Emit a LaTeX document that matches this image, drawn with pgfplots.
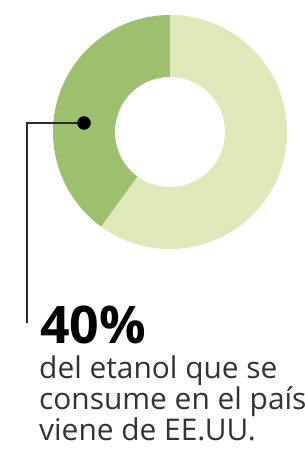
\documentclass[border=0pt]{standalone}
\usepackage{pgfplots}
\usepackage{pgfplotstable}
\pgfplotsset{compat=1.18}
\usepackage{fontspec}
\setmainfont{Open Sans}
\definecolor{darkgreen}{HTML}{9DC06F}
\definecolor{lightgreen}{HTML}{DFE8B8}
\definecolor{linegray}{HTML}{2B2B2B}
\definecolor{textgray}{HTML}{333333}
\pgfplotstableread{
label value
EEUU 40
Otros 60
}\shares
\begin{document}
\begin{tikzpicture}
\pgfplotstablegetelem{0}{value}\of\shares \pgfmathsetmacro{\va}{\pgfplotsretval}
\pgfplotstablegetelem{1}{value}\of\shares \pgfmathsetmacro{\vb}{\pgfplotsretval}
\pgfmathsetmacro{\tot}{\va+\vb}
\pgfmathsetmacro{\angA}{90+360*\va/\tot}
\begin{axis}[name=ax, width=305bp, height=452bp, scale only axis,
  xmin=0, xmax=305, ymin=0, ymax=452, y dir=reverse, hide axis, clip=false]
  \fill[darkgreen] (axis cs:170,132) -- ++(90:117bp) arc[start angle=90, end angle=\angA, radius=117bp] -- cycle;
  \fill[lightgreen] (axis cs:170,132) -- ++(\angA:117bp) arc[start angle=\angA, end angle=450, radius=117bp] -- cycle;
  \fill[white] (axis cs:170,132) circle[radius=55bp];
  \draw[linegray, line width=1.6bp] (axis cs:84,123) -- (axis cs:27,123) -- (axis cs:27,323);
  \addplot[only marks, mark=*, mark size=6.5bp, color=black] coordinates {(84,123)};
  \node[anchor=base west, inner sep=0pt, text=black, font=\fontsize{52}{52}\selectfont\bfseries] at (axis cs:40,343) {40\%};
  \node[anchor=base west, inner sep=0pt, text=textgray, font=\fontsize{30}{30}\selectfont] at (axis cs:39,378) {del etanol que se};
  \node[anchor=base west, inner sep=0pt, text=textgray, font=\fontsize{30}{30}\selectfont] at (axis cs:39,409) {consume en el país};
  \node[anchor=base west, inner sep=0pt, text=textgray, font=\fontsize{30}{30}\selectfont] at (axis cs:39,440) {viene de EE.UU.};
\end{axis}
\pgfresetboundingbox
\useasboundingbox (ax.south west) rectangle (ax.north east);
\end{tikzpicture}
\end{document}
